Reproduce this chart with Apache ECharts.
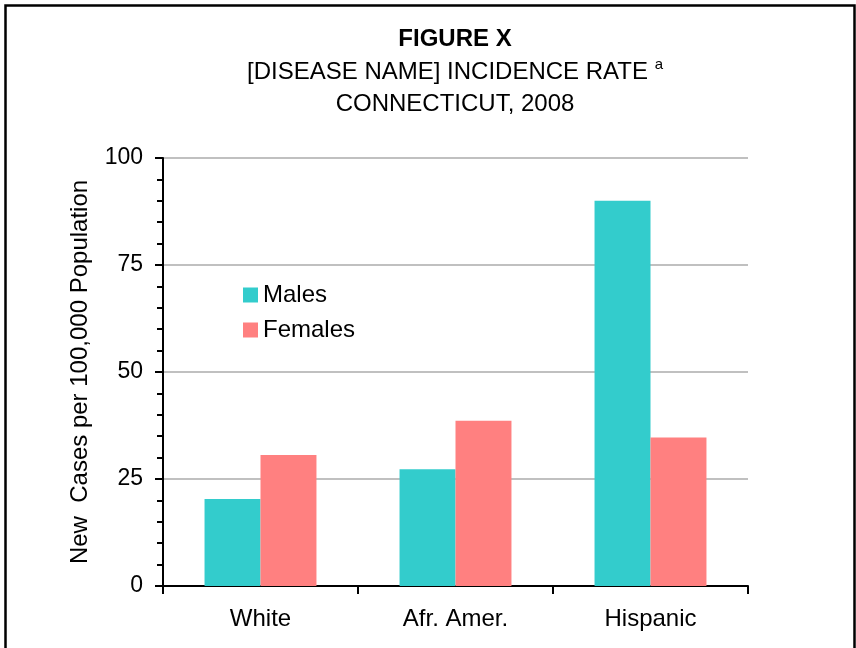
<!DOCTYPE html>
<html><head><meta charset="utf-8">
<script src="https://cdn.jsdelivr.net/npm/echarts@6/dist/echarts.min.js"></script>
<style>html,body{margin:0;padding:0;background:#fff}#c{width:856px;height:648px}</style>
</head><body><div id="c"></div>
<script>
const categories = ['White', 'Afr. Amer.', 'Hispanic'];
const males = [20.3, 27.3, 90.0];
const females = [30.6, 38.6, 34.7];
const yTicks = [0, 25, 50, 75, 100];

const chart = echarts.init(document.getElementById('c'), null, {renderer: 'canvas'});
const F = 'Liberation Sans, Arial, sans-serif';
chart.setOption({
  animation: false,
  backgroundColor: '#fff',
  graphic: [{
    type: 'rect', left: 3, top: 3, shape: {x: 0, y: 0, width: 849, height: 660},
    style: {fill: 'none', stroke: '#000', lineWidth: 2.5}, silent: true
  }],
  title: [
    {text: 'FIGURE X', left: 455, top: 26, textAlign: 'center', padding: 0,
     textStyle: {fontFamily: F, fontSize: 24, fontWeight: 'bold', color: '#000', lineHeight: 26}},
    {text: '{t|[DISEASE NAME] INCIDENCE RATE }{s|a}', left: 455, top: 58, textAlign: 'center', padding: 0,
     textStyle: {fontWeight: 'normal', rich: {
       t: {fontFamily: F, fontSize: 24, fontWeight: 'normal', color: '#000', lineHeight: 28},
       s: {fontFamily: F, fontSize: 15, fontWeight: 'normal', color: '#000', lineHeight: 28, padding: [0, 0, 14, 0]}
     }}},
    {text: 'CONNECTICUT, 2008', left: 455, top: 91, textAlign: 'center', padding: 0,
     textStyle: {fontFamily: F, fontSize: 24, fontWeight: 'normal', color: '#000', lineHeight: 26}}
  ],
  legend: {
    orient: 'vertical', left: 238, top: 278, itemWidth: 15, itemHeight: 15, itemGap: 11,
    icon: 'rect', textStyle: {fontFamily: F, fontSize: 24, color: '#000', lineHeight: 24},
    data: ['Males', 'Females']
  },
  grid: {left: 163, top: 158, right: 108, bottom: 62, containLabel: false},
  xAxis: {
    type: 'category', data: categories,
    axisLine: {lineStyle: {color: '#000', width: 2}},
    axisTick: {show: true, length: 8, alignWithLabel: false, lineStyle: {color: '#000', width: 2}},
    axisLabel: {fontFamily: F, fontSize: 24, color: '#000', margin: 21},
    splitLine: {show: false}
  },
  yAxis: {
    type: 'value', min: 0, max: 100, interval: 25,
    name: 'New  Cases per 100,000 Population', nameLocation: 'middle', nameGap: 71,
    nameTextStyle: {fontFamily: F, fontSize: 24, color: '#000'},
    axisLine: {show: true, lineStyle: {color: '#000', width: 2}},
    axisTick: {show: true, length: 8, lineStyle: {color: '#000', width: 2}},
    minorTick: {show: true, splitNumber: 5, length: 6, lineStyle: {color: '#000', width: 2}},
    axisLabel: {fontFamily: F, fontSize: 23, color: '#000', margin: 20,
      formatter: v => yTicks.includes(v) ? String(v) : ''},
    splitLine: {show: true, lineStyle: {color: '#C0C0C0', width: 2}}
  },
  series: [
    {name: 'Males', type: 'bar', data: males, barGap: '0%', barCategoryGap: '42.6%',
     itemStyle: {color: '#33CCCC'}},
    {name: 'Females', type: 'bar', data: females, barGap: '0%', barCategoryGap: '42.6%',
     itemStyle: {color: '#FF8080'}}
  ]
});
</script></body></html>
